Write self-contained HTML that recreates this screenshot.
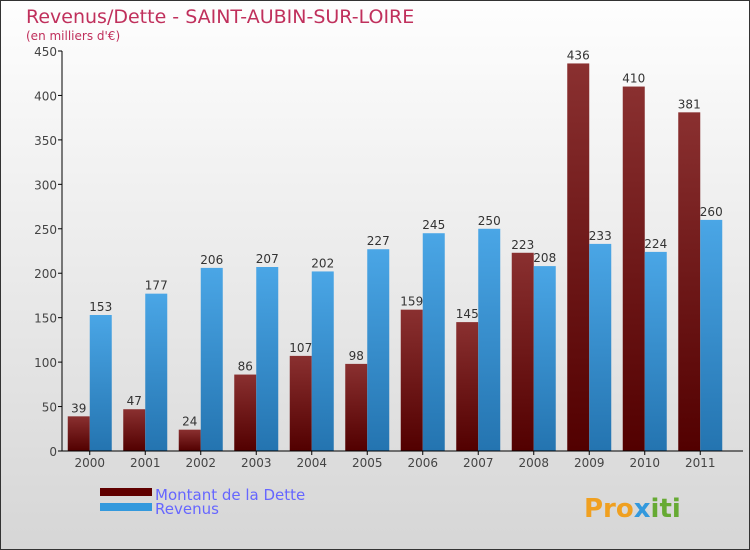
<!DOCTYPE html>
<html><head><meta charset="utf-8"><style>
body{margin:0;}
#c{position:relative;width:748px;height:548px;border:1px solid #333;background:linear-gradient(#fefefe,#d6d6d6);font-family:"DejaVu Sans","Liberation Sans",sans-serif;overflow:hidden}
</style></head><body>
<div id="c">
<svg id="s" width="748" height="548" xmlns="http://www.w3.org/2000/svg">
<defs>
<linearGradient id="gd" x1="0" y1="0" x2="0" y2="1"><stop offset="0" stop-color="#8a3030"/><stop offset="1" stop-color="#520000"/></linearGradient>
<linearGradient id="gr" x1="0" y1="0" x2="0" y2="1"><stop offset="0" stop-color="#4aa6e6"/><stop offset="1" stop-color="#2474b0"/></linearGradient>
</defs>
<text x="25" y="22" font-size="19" fill="#c0305c">Revenus/Dette - SAINT-AUBIN-SUR-LOIRE</text>
<text x="25" y="39" font-size="12" fill="#c0305c">(en milliers d'€)</text>
<g id="plot"></g>
<rect x="99" y="487" width="52" height="8" fill="#600000"/>
<rect x="99" y="502" width="52" height="8" fill="#3399dd"/>
<text x="154" y="499" font-size="15" fill="#6666ff">Montant de la Dette</text>
<text x="154" y="513" font-size="15" fill="#6666ff">Revenus</text>
<text x="583" y="516" font-size="26" font-weight="bold" fill="#f0a020">Pro<tspan fill="#3399dd">x</tspan><tspan fill="#66aa33">iti</tspan></text>
</svg>
</div>
<script>
const years=["2000","2001","2002","2003","2004","2005","2006","2007","2008","2009","2010","2011"];
const dette=[39,47,24,86,107,98,159,145,223,436,410,381];
const revenus=[153,177,206,207,202,227,245,250,208,233,224,260];
const ticks=[0,50,100,150,200,250,300,350,400,450];
const NS="http://www.w3.org/2000/svg";
const g=document.getElementById('plot');
const x0=61,band=55.5,y0=450,k=400/450;
const y=v=>y0-v*k;
function el(t,a,txt){const e=document.createElementNS(NS,t);for(const n in a)e.setAttribute(n,a[n]);if(txt!==undefined)e.textContent=txt;g.appendChild(e);return e;}
ticks.forEach(t=>{
 const l=el('line',{x1:x0-4,x2:x0,y1:y(t),y2:y(t),stroke:'#000'});
 
 
 const tx=el('text',{x:x0-5,y:y(t)+5,'font-size':12,'text-anchor':'end',fill:'#444'},t);
 
 
});
years.forEach((yr,i)=>{
 const c=x0+band*(i+0.5);
 const a=el('rect',{x:c-22,y:y(dette[i]),width:22,height:dette[i]*k,fill:'url(#gd)'});
 
 
 const b=el('rect',{x:c,y:y(revenus[i]),width:22,height:revenus[i]*k,fill:'url(#gr)'});
 
 
 const la=el('text',{x:c-11,y:y(dette[i])-4,'font-size':12,'text-anchor':'middle',fill:'#333'},dette[i]);
 
 
 const lb=el('text',{x:c+11,y:y(revenus[i])-4,'font-size':12,'text-anchor':'middle',fill:'#333'},revenus[i]);
 
 
 const tk=el('line',{x1:c,x2:c,y1:y0,y2:y0+4,stroke:'#000'});
 
 
 const xl=el('text',{x:c,y:y0+16,'font-size':12,'text-anchor':'middle',fill:'#444'},yr);
 
 
});
const ya=el('line',{x1:x0,x2:x0,y1:y(450),y2:y0,stroke:'#000'});


const xa=el('line',{x1:x0,x2:742,y1:y0,y2:y0,stroke:'#000'});


</script>
</body></html>
